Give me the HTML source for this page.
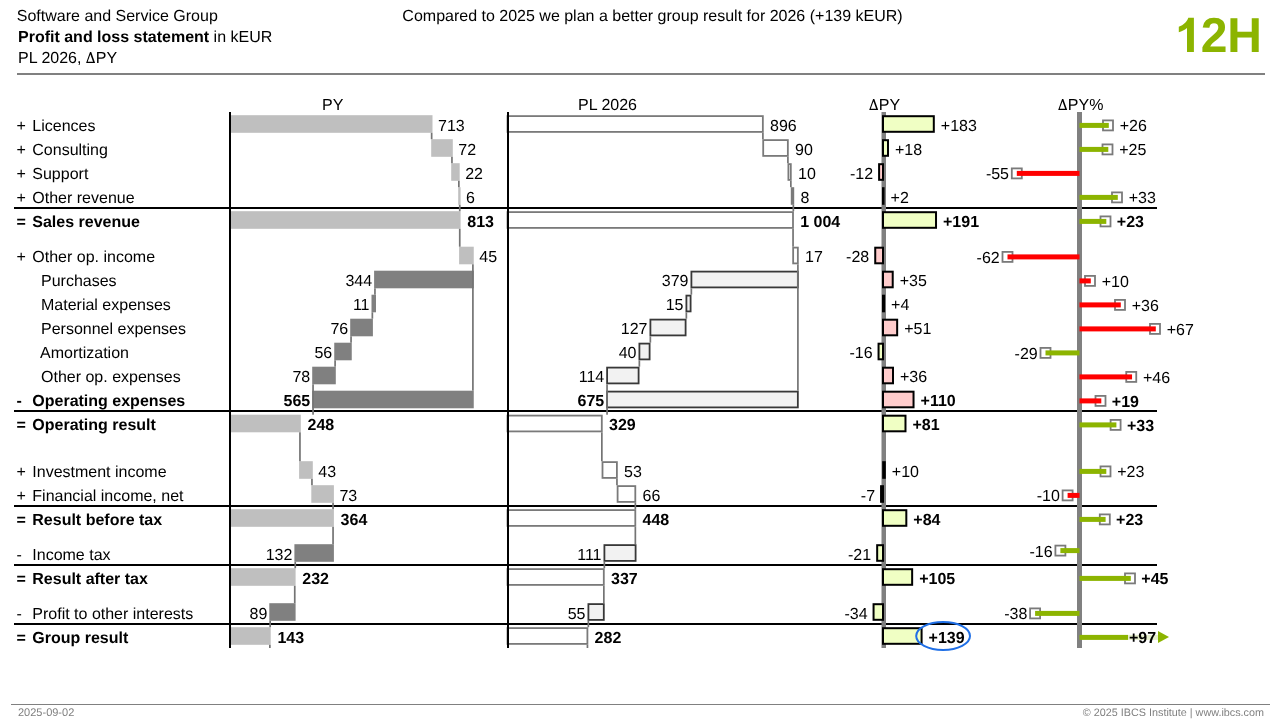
<!DOCTYPE html><html><head><meta charset="utf-8"><style>html,body{margin:0;padding:0;background:#fff;width:1280px;height:720px;overflow:hidden}svg{display:block;will-change:transform}text{font-family:"Liberation Sans",sans-serif;text-rendering:geometricPrecision}</style></head><body>
<svg width="1280" height="720" viewBox="0 0 1280 720">
<text x="16.8" y="20.6" font-size="16" fill="#000">Software and Service Group</text>
<text x="18" y="42" font-size="16" fill="#000"><tspan font-weight="bold">Profit and loss statement</tspan> in kEUR</text>
<text x="18" y="63" font-size="16" fill="#000">PL 2026,</text>
<path fill-rule="evenodd" d="M86.11,63 L95.11,63 L91.21,52.10 L90.01,52.10 Z M87.68,61.70 L93.04,61.70 L90.36,54.20 Z" fill="#000"/>
<text x="95.71" y="63" font-size="16" fill="#000">PY</text>
<text x="652.5" y="20.6" font-size="16" text-anchor="middle" fill="#000">Compared to 2025 we plan a better group result for 2026 (+139 kEUR)</text>
<text x="1262" y="0" font-size="48" font-weight="bold" text-anchor="end" fill="#8CB400" transform="translate(0,52.4) scale(1,1.02)">2H</text>
<path d="M1193.9,52 H1187 V28 C1184.5,30 1181.8,31.4 1178.8,32.2 V26.7 C1181,25.9 1183.3,24.5 1185.2,22.7 C1186.8,21.2 1187.8,19.5 1188.3,17.8 H1193.9 Z" fill="#8CB400"/>
<rect x="17" y="73" width="1248" height="2" fill="#808080"/>
<rect x="11" y="704" width="1259" height="1" fill="#808080"/>
<text x="18" y="716" font-size="11" fill="#808080">2025-09-02</text>
<text x="1264" y="716" font-size="10.8" text-anchor="end" fill="#808080">© 2025 IBCS Institute | www.ibcs.com</text>
<text x="322" y="110" font-size="16">PY</text>
<text x="578" y="110" font-size="16">PL 2026</text>
<path fill-rule="evenodd" d="M869.20,110 L878.20,110 L874.30,99.10 L873.10,99.10 Z M870.77,108.70 L876.13,108.70 L873.45,101.20 Z" fill="#000"/>
<text x="878.8" y="110" font-size="16">PY</text>
<path fill-rule="evenodd" d="M1058.20,110 L1067.20,110 L1063.30,99.10 L1062.10,99.10 Z M1059.77,108.70 L1065.13,108.70 L1062.45,101.20 Z" fill="#000"/>
<text x="1067.8" y="110" font-size="16">PY%</text>
<text x="16.4" y="130.5" font-size="16">+</text>
<text x="32.3" y="130.5" font-size="16">Licences</text>
<text x="16.4" y="154.5" font-size="16">+</text>
<text x="32.3" y="154.5" font-size="16">Consulting</text>
<text x="16.4" y="178.5" font-size="16">+</text>
<text x="32.3" y="178.5" font-size="16">Support</text>
<text x="16.4" y="202.5" font-size="16">+</text>
<text x="32.3" y="202.5" font-size="16">Other revenue</text>
<text x="16.4" y="226.5" font-size="16" font-weight="bold">=</text>
<text x="32.3" y="226.5" font-size="16" font-weight="bold">Sales revenue</text>
<text x="16.4" y="262.0" font-size="16">+</text>
<text x="32.3" y="262.0" font-size="16">Other op. income</text>
<text x="41" y="286.0" font-size="16">Purchases</text>
<text x="41" y="310.0" font-size="16">Material expenses</text>
<text x="41" y="334.0" font-size="16">Personnel expenses</text>
<text x="40" y="358.0" font-size="16">Amortization</text>
<text x="41" y="382.0" font-size="16">Other op. expenses</text>
<text x="16.4" y="406.0" font-size="16" font-weight="bold">-</text>
<text x="32.3" y="406.0" font-size="16" font-weight="bold">Operating expenses</text>
<text x="16.4" y="430.0" font-size="16" font-weight="bold">=</text>
<text x="32.3" y="430.0" font-size="16" font-weight="bold">Operating result</text>
<text x="16.4" y="476.5" font-size="16">+</text>
<text x="32.3" y="476.5" font-size="16">Investment income</text>
<text x="16.4" y="500.5" font-size="16">+</text>
<text x="32.3" y="500.5" font-size="16">Financial income, net</text>
<text x="16.4" y="524.5" font-size="16" font-weight="bold">=</text>
<text x="32.3" y="524.5" font-size="16" font-weight="bold">Result before tax</text>
<text x="16.4" y="559.5" font-size="16">-</text>
<text x="32.3" y="559.5" font-size="16">Income tax</text>
<text x="16.4" y="583.5" font-size="16" font-weight="bold">=</text>
<text x="32.3" y="583.5" font-size="16" font-weight="bold">Result after tax</text>
<text x="16.4" y="618.5" font-size="16">-</text>
<text x="32.3" y="618.5" font-size="16">Profit to other interests</text>
<text x="16.4" y="642.5" font-size="16" font-weight="bold">=</text>
<text x="32.3" y="642.5" font-size="16" font-weight="bold">Group result</text>
<rect x="14" y="207" width="1143" height="2" fill="#000"/>
<rect x="14" y="410" width="1143" height="2" fill="#000"/>
<rect x="14" y="505" width="1143" height="2" fill="#000"/>
<rect x="14" y="564" width="1143" height="2" fill="#000"/>
<rect x="14" y="623" width="1143" height="2" fill="#000"/>
<rect x="229.5" y="115.2" width="203.0" height="17.6" fill="#BFBFBF"/>
<text x="438.0" y="130.5" font-size="16">713</text>
<rect x="431.2" y="139.2" width="21.600000000000023" height="17.6" fill="#BFBFBF"/>
<text x="458.3" y="154.5" font-size="16">72</text>
<rect x="451.2" y="163.2" width="8.5" height="17.6" fill="#BFBFBF"/>
<text x="465.2" y="178.5" font-size="16">22</text>
<rect x="458.2" y="187.2" width="2.400000000000034" height="17.6" fill="#BFBFBF"/>
<text x="466.1" y="202.5" font-size="16">6</text>
<rect x="229.5" y="211.2" width="231.10000000000002" height="17.6" fill="#BFBFBF"/>
<text x="467.3" y="226.5" font-size="16" font-weight="bold">813</text>
<rect x="459.1" y="246.7" width="14.649999999999977" height="17.6" fill="#BFBFBF"/>
<text x="479.25" y="262.0" font-size="16">45</text>
<rect x="374.1" y="270.7" width="99.64999999999998" height="17.6" fill="#808080"/>
<text x="372.1" y="286.0" font-size="16" text-anchor="end">344</text>
<rect x="371.5" y="294.7" width="4.5" height="17.6" fill="#808080"/>
<text x="369.5" y="310.0" font-size="16" text-anchor="end">11</text>
<rect x="350.2" y="318.7" width="22.69999999999999" height="17.6" fill="#808080"/>
<text x="348.2" y="334.0" font-size="16" text-anchor="end">76</text>
<rect x="334.25" y="342.7" width="17.5" height="17.6" fill="#808080"/>
<text x="332.25" y="358.0" font-size="16" text-anchor="end">56</text>
<rect x="312.2" y="366.7" width="23.600000000000023" height="17.6" fill="#808080"/>
<text x="310.2" y="382.0" font-size="16" text-anchor="end">78</text>
<rect x="312.2" y="390.7" width="161.55" height="17.6" fill="#808080"/>
<text x="310.2" y="406.0" font-size="16" text-anchor="end" font-weight="bold">565</text>
<rect x="229.5" y="414.7" width="71.30000000000001" height="17.6" fill="#BFBFBF"/>
<text x="307.5" y="430.0" font-size="16" font-weight="bold">248</text>
<rect x="299.1" y="461.2" width="13.699999999999989" height="17.6" fill="#BFBFBF"/>
<text x="318.3" y="476.5" font-size="16">43</text>
<rect x="311.3" y="485.2" width="22.599999999999966" height="17.6" fill="#BFBFBF"/>
<text x="339.4" y="500.5" font-size="16">73</text>
<rect x="229.5" y="509.2" width="104.39999999999998" height="17.6" fill="#BFBFBF"/>
<text x="340.59999999999997" y="524.5" font-size="16" font-weight="bold">364</text>
<rect x="294.4" y="544.2" width="39.5" height="17.6" fill="#808080"/>
<text x="292.4" y="559.5" font-size="16" text-anchor="end">132</text>
<rect x="229.5" y="568.2" width="66.10000000000002" height="17.6" fill="#BFBFBF"/>
<text x="302.3" y="583.5" font-size="16" font-weight="bold">232</text>
<rect x="269.3" y="603.2" width="26.30000000000001" height="17.6" fill="#808080"/>
<text x="267.3" y="618.5" font-size="16" text-anchor="end">89</text>
<rect x="229.5" y="627.2" width="41.19999999999999" height="17.6" fill="#BFBFBF"/>
<text x="277.4" y="642.5" font-size="16" font-weight="bold">143</text>
<rect x="430.80" y="132.8" width="1.7" height="6.40" fill="#747474"/>
<rect x="451.10" y="156.8" width="1.7" height="6.40" fill="#747474"/>
<rect x="458.00" y="180.8" width="1.7" height="6.40" fill="#747474"/>
<rect x="458.90" y="204.8" width="1.7" height="6.40" fill="#747474"/>
<rect x="458.90" y="228.8" width="1.7" height="17.90" fill="#747474"/>
<rect x="472.05" y="264.3" width="1.7" height="126.40" fill="#747474"/>
<rect x="374.10" y="288.3" width="1.7" height="6.40" fill="#747474"/>
<rect x="371.50" y="312.3" width="1.7" height="6.40" fill="#747474"/>
<rect x="350.20" y="336.3" width="1.7" height="6.40" fill="#747474"/>
<rect x="334.25" y="360.3" width="1.7" height="6.40" fill="#747474"/>
<rect x="312.20" y="384.3" width="1.7" height="30.40" fill="#747474"/>
<rect x="299.10" y="432.3" width="1.7" height="28.90" fill="#747474"/>
<rect x="311.10" y="478.8" width="1.7" height="6.40" fill="#747474"/>
<rect x="332.20" y="502.8" width="1.7" height="6.40" fill="#747474"/>
<rect x="332.20" y="526.8" width="1.7" height="17.40" fill="#747474"/>
<rect x="294.40" y="561.8" width="1.7" height="6.40" fill="#747474"/>
<rect x="293.90" y="585.8" width="1.7" height="17.40" fill="#747474"/>
<rect x="269.30" y="620.8" width="1.7" height="6.40" fill="#747474"/>
<rect x="269.00" y="644.8" width="1.7" height="3.20" fill="#747474"/>
<rect x="229" y="112" width="2" height="536" fill="#000"/>
<rect x="507.5" y="116.10000000000001" width="255.34999999999997" height="15.8" fill="#FFFFFF" stroke="#7A7A7A" stroke-width="1.8"/>
<text x="770.05" y="130.5" font-size="16">896</text>
<rect x="763.1999999999999" y="140.1" width="24.650000000000045" height="15.8" fill="#FFFFFF" stroke="#7A7A7A" stroke-width="1.8"/>
<text x="795.05" y="154.5" font-size="16">90</text>
<rect x="788.4" y="164.1" width="2.4000000000000457" height="15.8" fill="#FFFFFF" stroke="#7A7A7A" stroke-width="1.8"/>
<text x="798.0" y="178.5" font-size="16">10</text>
<rect x="791.6999999999999" y="188.1" width="1.600000000000091" height="15.8" fill="#FFFFFF" stroke="#7A7A7A" stroke-width="1.8"/>
<text x="800.5" y="202.5" font-size="16">8</text>
<rect x="507.5" y="212.1" width="285.49999999999994" height="15.8" fill="#FFFFFF" stroke="#7A7A7A" stroke-width="1.8"/>
<text x="800.1999999999999" y="226.5" font-size="16" font-weight="bold">1 004</text>
<rect x="793.15" y="247.6" width="4.7" height="15.8" fill="#FFFFFF" stroke="#7A7A7A" stroke-width="1.8"/>
<text x="805.05" y="262.0" font-size="16">17</text>
<rect x="691.4" y="271.59999999999997" width="106.45" height="15.8" fill="#F2F2F2" stroke="#383838" stroke-width="1.8"/>
<text x="688.5" y="286.0" font-size="16" text-anchor="end">379</text>
<rect x="686.4" y="295.59999999999997" width="4.2" height="15.8" fill="#F2F2F2" stroke="#383838" stroke-width="1.8"/>
<text x="683.5" y="310.0" font-size="16" text-anchor="end">15</text>
<rect x="650.4" y="319.59999999999997" width="35.2" height="15.8" fill="#F2F2F2" stroke="#383838" stroke-width="1.8"/>
<text x="647.5" y="334.0" font-size="16" text-anchor="end">127</text>
<rect x="639.4" y="343.59999999999997" width="10.2" height="15.8" fill="#F2F2F2" stroke="#383838" stroke-width="1.8"/>
<text x="636.5" y="358.0" font-size="16" text-anchor="end">40</text>
<rect x="607.1" y="367.59999999999997" width="31.499999999999954" height="15.8" fill="#F2F2F2" stroke="#383838" stroke-width="1.8"/>
<text x="604.2" y="382.0" font-size="16" text-anchor="end">114</text>
<rect x="607.1" y="391.59999999999997" width="190.74999999999994" height="15.8" fill="#F2F2F2" stroke="#383838" stroke-width="1.8"/>
<text x="604.2" y="406.0" font-size="16" text-anchor="end" font-weight="bold">675</text>
<rect x="507.5" y="415.59999999999997" width="94.30000000000003" height="15.8" fill="#FFFFFF" stroke="#7A7A7A" stroke-width="1.8"/>
<text x="609.0" y="430.0" font-size="16" font-weight="bold">329</text>
<rect x="602.5" y="462.09999999999997" width="14.399999999999931" height="15.8" fill="#FFFFFF" stroke="#7A7A7A" stroke-width="1.8"/>
<text x="624.0999999999999" y="476.5" font-size="16">53</text>
<rect x="617.6" y="486.09999999999997" width="17.7" height="15.8" fill="#FFFFFF" stroke="#7A7A7A" stroke-width="1.8"/>
<text x="642.5" y="500.5" font-size="16">66</text>
<rect x="507.5" y="510.09999999999997" width="127.80000000000003" height="15.8" fill="#FFFFFF" stroke="#7A7A7A" stroke-width="1.8"/>
<text x="642.5" y="524.5" font-size="16" font-weight="bold">448</text>
<rect x="604.4" y="545.1" width="31.2" height="15.8" fill="#F2F2F2" stroke="#383838" stroke-width="1.8"/>
<text x="601.5" y="559.5" font-size="16" text-anchor="end">111</text>
<rect x="507.5" y="569.1" width="96.30000000000003" height="15.8" fill="#FFFFFF" stroke="#7A7A7A" stroke-width="1.8"/>
<text x="611.0" y="583.5" font-size="16" font-weight="bold">337</text>
<rect x="588.4" y="604.1" width="15.400000000000045" height="15.8" fill="#F2F2F2" stroke="#383838" stroke-width="1.8"/>
<text x="585.5" y="618.5" font-size="16" text-anchor="end">55</text>
<rect x="507.5" y="628.1" width="79.89999999999993" height="15.8" fill="#FFFFFF" stroke="#7A7A7A" stroke-width="1.8"/>
<text x="594.5999999999999" y="642.5" font-size="16" font-weight="bold">282</text>
<rect x="762.05" y="132.8" width="1.7" height="6.40" fill="#747474"/>
<rect x="787.05" y="156.8" width="1.7" height="6.40" fill="#747474"/>
<rect x="790.00" y="180.8" width="1.7" height="6.40" fill="#747474"/>
<rect x="792.50" y="204.8" width="1.7" height="6.40" fill="#747474"/>
<rect x="792.20" y="228.8" width="1.7" height="17.90" fill="#747474"/>
<rect x="797.05" y="264.3" width="1.7" height="126.40" fill="#747474"/>
<rect x="690.50" y="288.3" width="1.7" height="6.40" fill="#747474"/>
<rect x="685.50" y="312.3" width="1.7" height="6.40" fill="#747474"/>
<rect x="649.50" y="336.3" width="1.7" height="6.40" fill="#747474"/>
<rect x="638.50" y="360.3" width="1.7" height="6.40" fill="#747474"/>
<rect x="606.20" y="384.3" width="1.7" height="30.40" fill="#747474"/>
<rect x="601.00" y="432.3" width="1.7" height="28.90" fill="#747474"/>
<rect x="616.10" y="478.8" width="1.7" height="6.40" fill="#747474"/>
<rect x="634.50" y="502.8" width="1.7" height="6.40" fill="#747474"/>
<rect x="634.50" y="526.8" width="1.7" height="17.40" fill="#747474"/>
<rect x="603.50" y="561.8" width="1.7" height="6.40" fill="#747474"/>
<rect x="603.00" y="585.8" width="1.7" height="17.40" fill="#747474"/>
<rect x="587.50" y="620.8" width="1.7" height="6.40" fill="#747474"/>
<rect x="586.60" y="644.8" width="1.7" height="3.20" fill="#747474"/>
<rect x="507" y="112" width="2" height="536" fill="#000"/>
<rect x="881.5" y="112" width="4.5" height="536" fill="#808080"/>
<rect x="883" y="116.2" width="50.80079999999998" height="15.600000000000001" fill="#F0FFC4" stroke="#000" stroke-width="2"/>
<text x="940.8008" y="130.5" font-size="16">+183</text>
<rect x="883" y="140.2" width="4.9968000000000075" height="15.600000000000001" fill="#F0FFC4" stroke="#000" stroke-width="2"/>
<text x="894.9968" y="154.5" font-size="16">+18</text>
<rect x="879.1" y="164.2" width="3.8999999999999773" height="15.600000000000001" fill="#FFCCCC" stroke="#000" stroke-width="2"/>
<text x="873.1" y="178.5" font-size="16" text-anchor="end">-12</text>
<rect x="883" y="188.2" width="0.5552000000000135" height="15.600000000000001" fill="#F0FFC4" stroke="#000" stroke-width="2"/>
<text x="890.5552" y="202.5" font-size="16">+2</text>
<rect x="883" y="212.2" width="53.021600000000035" height="15.600000000000001" fill="#F0FFC4" stroke="#000" stroke-width="2"/>
<text x="943.0216" y="226.5" font-size="16" font-weight="bold">+191</text>
<rect x="875.2272" y="247.7" width="7.772799999999961" height="15.600000000000001" fill="#FFCCCC" stroke="#000" stroke-width="2"/>
<text x="869.2272" y="262.0" font-size="16" text-anchor="end">-28</text>
<rect x="883" y="271.7" width="9.716000000000008" height="15.600000000000001" fill="#FFCCCC" stroke="#000" stroke-width="2"/>
<text x="899.716" y="286.0" font-size="16">+35</text>
<rect x="883" y="295.7" width="1.110400000000027" height="15.600000000000001" fill="#FFCCCC" stroke="#000" stroke-width="2"/>
<text x="891.1104" y="310.0" font-size="16">+4</text>
<rect x="883" y="319.7" width="14.157600000000002" height="15.600000000000001" fill="#FFCCCC" stroke="#000" stroke-width="2"/>
<text x="904.1576" y="334.0" font-size="16">+51</text>
<rect x="878.5584" y="343.7" width="4.441599999999994" height="15.600000000000001" fill="#F0FFC4" stroke="#000" stroke-width="2"/>
<text x="872.5584" y="358.0" font-size="16" text-anchor="end">-16</text>
<rect x="883" y="367.7" width="9.993600000000015" height="15.600000000000001" fill="#FFCCCC" stroke="#000" stroke-width="2"/>
<text x="899.9936" y="382.0" font-size="16">+36</text>
<rect x="883" y="391.7" width="30.536000000000058" height="15.600000000000001" fill="#FFCCCC" stroke="#000" stroke-width="2"/>
<text x="920.5360000000001" y="406.0" font-size="16" font-weight="bold">+110</text>
<rect x="883" y="415.7" width="22.485599999999977" height="15.600000000000001" fill="#F0FFC4" stroke="#000" stroke-width="2"/>
<text x="912.4856" y="430.0" font-size="16" font-weight="bold">+81</text>
<rect x="883.2" y="462.2" width="1.599999999999909" height="15.600000000000001" fill="#000" stroke="#000" stroke-width="2"/>
<text x="891.8" y="476.5" font-size="16">+10</text>
<rect x="881.0568" y="486.2" width="1.9432000000000471" height="15.600000000000001" fill="#F0FFC4" stroke="#000" stroke-width="2"/>
<text x="875.0568" y="500.5" font-size="16" text-anchor="end">-7</text>
<rect x="883" y="510.2" width="23.318399999999997" height="15.600000000000001" fill="#F0FFC4" stroke="#000" stroke-width="2"/>
<text x="913.3184" y="524.5" font-size="16" font-weight="bold">+84</text>
<rect x="877.1704" y="545.2" width="5.829600000000028" height="15.600000000000001" fill="#F0FFC4" stroke="#000" stroke-width="2"/>
<text x="871.1704" y="559.5" font-size="16" text-anchor="end">-21</text>
<rect x="883" y="569.2" width="29.148000000000025" height="15.600000000000001" fill="#F0FFC4" stroke="#000" stroke-width="2"/>
<text x="919.148" y="583.5" font-size="16" font-weight="bold">+105</text>
<rect x="873.5616" y="604.2" width="9.438400000000001" height="15.600000000000001" fill="#F0FFC4" stroke="#000" stroke-width="2"/>
<text x="867.5616" y="618.5" font-size="16" text-anchor="end">-34</text>
<rect x="883" y="628.2" width="38.586400000000026" height="15.600000000000001" fill="#F0FFC4" stroke="#000" stroke-width="2"/>
<text x="928.5864" y="642.5" font-size="16" font-weight="bold">+139</text>
<ellipse cx="943.1" cy="636" rx="26.9" ry="13.9" fill="none" stroke="#1F6FE6" stroke-width="2"/>
<rect x="1077" y="112" width="5" height="536" fill="#808080"/>
<rect x="1103" y="120.4" width="10" height="10" fill="#fff" stroke="#7A7A7A" stroke-width="1.8"/>
<rect x="1079.5" y="122.9" width="29.299999999999955" height="5" fill="#8CB400"/>
<text x="1119.7" y="131.3" font-size="16">+26</text>
<rect x="1102.5" y="144.4" width="10" height="10" fill="#fff" stroke="#7A7A7A" stroke-width="1.8"/>
<rect x="1079.5" y="146.9" width="28.799999999999955" height="5" fill="#8CB400"/>
<text x="1119.2" y="155.3" font-size="16">+25</text>
<rect x="1011.8" y="168.4" width="10" height="10" fill="#fff" stroke="#7A7A7A" stroke-width="1.8"/>
<rect x="1016.8" y="170.9" width="62.700000000000045" height="5" fill="#FF0000"/>
<text x="1009.0" y="179.3" font-size="16" text-anchor="end">-55</text>
<rect x="1112" y="192.4" width="10" height="10" fill="#fff" stroke="#7A7A7A" stroke-width="1.8"/>
<rect x="1079.5" y="194.9" width="38.299999999999955" height="5" fill="#8CB400"/>
<text x="1128.7" y="203.3" font-size="16">+33</text>
<rect x="1100.5" y="216.4" width="10" height="10" fill="#fff" stroke="#7A7A7A" stroke-width="1.8"/>
<rect x="1079.5" y="218.9" width="26.799999999999955" height="5" fill="#8CB400"/>
<text x="1116.8" y="227.3" font-size="16" font-weight="bold">+23</text>
<rect x="1002.5" y="251.89999999999998" width="10" height="10" fill="#fff" stroke="#7A7A7A" stroke-width="1.8"/>
<rect x="1007.5" y="254.39999999999998" width="72.0" height="5" fill="#FF0000"/>
<text x="999.7" y="262.8" font-size="16" text-anchor="end">-62</text>
<rect x="1085" y="275.9" width="10" height="10" fill="#fff" stroke="#7A7A7A" stroke-width="1.8"/>
<rect x="1079.5" y="278.4" width="11.299999999999955" height="5" fill="#FF0000"/>
<text x="1101.7" y="286.8" font-size="16">+10</text>
<rect x="1115" y="299.9" width="10" height="10" fill="#fff" stroke="#7A7A7A" stroke-width="1.8"/>
<rect x="1079.5" y="302.4" width="41.299999999999955" height="5" fill="#FF0000"/>
<text x="1131.7" y="310.8" font-size="16">+36</text>
<rect x="1150" y="323.9" width="10" height="10" fill="#fff" stroke="#7A7A7A" stroke-width="1.8"/>
<rect x="1079.5" y="326.4" width="76.29999999999995" height="5" fill="#FF0000"/>
<text x="1166.7" y="334.8" font-size="16">+67</text>
<rect x="1040.5" y="347.9" width="10" height="10" fill="#fff" stroke="#7A7A7A" stroke-width="1.8"/>
<rect x="1045.5" y="350.4" width="34.0" height="5" fill="#8CB400"/>
<text x="1037.7" y="358.8" font-size="16" text-anchor="end">-29</text>
<rect x="1126.25" y="371.9" width="10" height="10" fill="#fff" stroke="#7A7A7A" stroke-width="1.8"/>
<rect x="1079.5" y="374.4" width="52.549999999999955" height="5" fill="#FF0000"/>
<text x="1142.95" y="382.8" font-size="16">+46</text>
<rect x="1095.5" y="395.9" width="10" height="10" fill="#fff" stroke="#7A7A7A" stroke-width="1.8"/>
<rect x="1079.5" y="398.4" width="21.799999999999955" height="5" fill="#FF0000"/>
<text x="1111.8" y="406.8" font-size="16" font-weight="bold">+19</text>
<rect x="1110.6" y="419.9" width="10" height="10" fill="#fff" stroke="#7A7A7A" stroke-width="1.8"/>
<rect x="1079.5" y="422.4" width="36.899999999999864" height="5" fill="#8CB400"/>
<text x="1126.8999999999999" y="430.8" font-size="16" font-weight="bold">+33</text>
<rect x="1100.5" y="466.4" width="10" height="10" fill="#fff" stroke="#7A7A7A" stroke-width="1.8"/>
<rect x="1079.5" y="468.9" width="26.799999999999955" height="5" fill="#8CB400"/>
<text x="1117.2" y="477.3" font-size="16">+23</text>
<rect x="1062.6" y="490.4" width="10" height="10" fill="#fff" stroke="#7A7A7A" stroke-width="1.8"/>
<rect x="1067.6" y="492.9" width="11.900000000000091" height="5" fill="#FF0000"/>
<text x="1059.8" y="501.3" font-size="16" text-anchor="end">-10</text>
<rect x="1099.8" y="514.4" width="10" height="10" fill="#fff" stroke="#7A7A7A" stroke-width="1.8"/>
<rect x="1079.5" y="516.9" width="26.09999999999991" height="5" fill="#8CB400"/>
<text x="1116.1" y="525.3" font-size="16" font-weight="bold">+23</text>
<rect x="1055.4" y="545.6" width="10" height="10" fill="#fff" stroke="#7A7A7A" stroke-width="1.8"/>
<rect x="1060.4" y="548.1" width="19.09999999999991" height="5" fill="#8CB400"/>
<text x="1052.6000000000001" y="556.5" font-size="16" text-anchor="end">-16</text>
<rect x="1125" y="573.4" width="10" height="10" fill="#fff" stroke="#7A7A7A" stroke-width="1.8"/>
<rect x="1079.5" y="575.9" width="51.299999999999955" height="5" fill="#8CB400"/>
<text x="1141.3" y="584.3" font-size="16" font-weight="bold">+45</text>
<rect x="1030.1" y="608.4" width="10" height="10" fill="#fff" stroke="#7A7A7A" stroke-width="1.8"/>
<rect x="1035.1" y="610.9" width="44.40000000000009" height="5" fill="#8CB400"/>
<text x="1027.3" y="619.3" font-size="16" text-anchor="end">-38</text>
<rect x="1079.5" y="634.9" width="48.5" height="5" fill="#8CB400"/>
<rect x="1128" y="634.9" width="30" height="5" fill="#E6EFCC"/>
<polygon points="1158,631 1169,637 1158,643" fill="#8CB400"/>
<text x="1129" y="643.3" font-size="16" font-weight="bold">+97</text>
</svg></body></html>
